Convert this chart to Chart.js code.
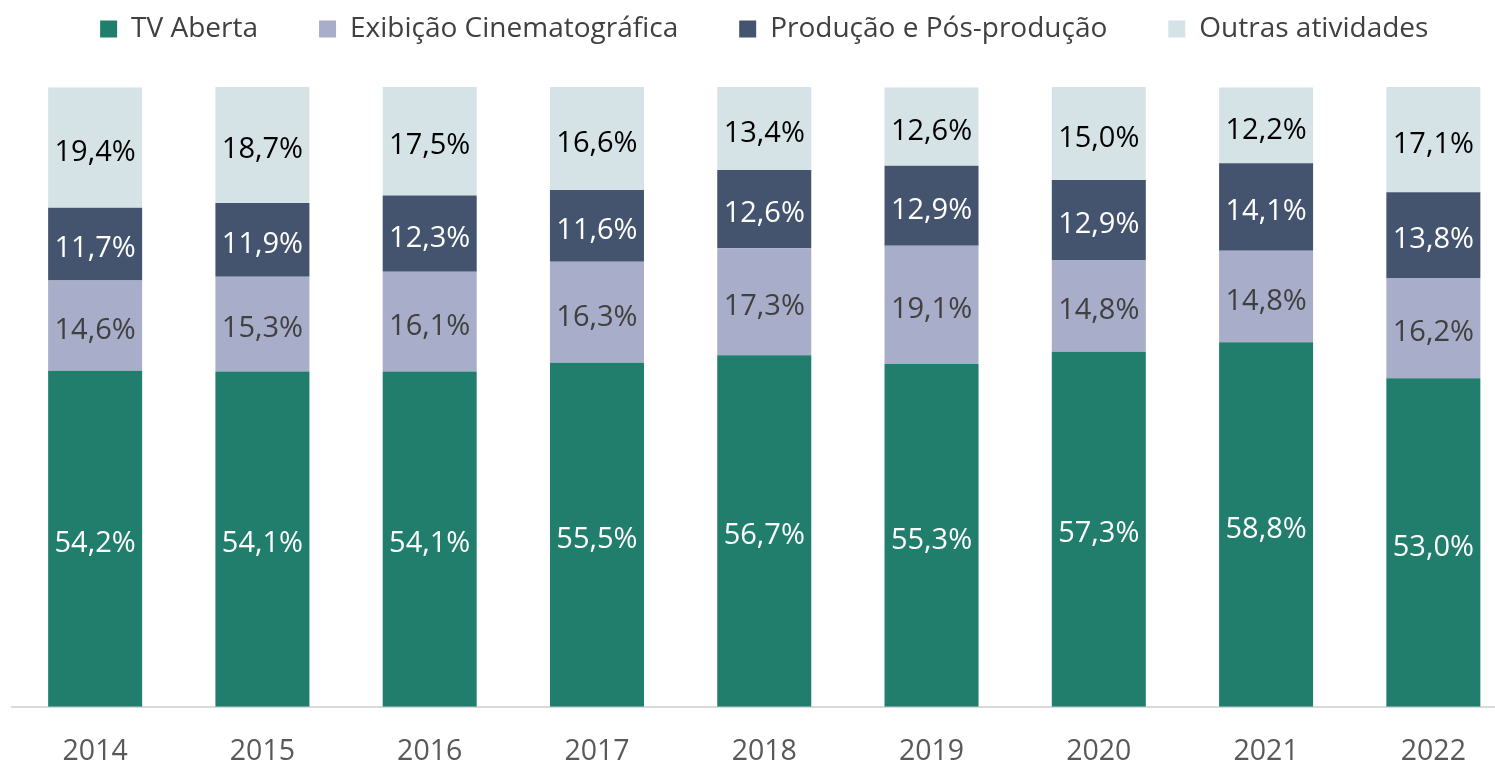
<!DOCTYPE html>
<html lang="pt">
<head>
    <meta charset="UTF-8">
    <title>Participação por atividade</title>
    <style>
        html, body { margin: 0; padding: 0; background: #fff; overflow: hidden; }
        .wrap { width: 1517px; height: 764px; }
    </style>
    <script src="https://cdn.jsdelivr.net/npm/chart.js"></script>
</head>
<body>
    <div class="wrap">
        <canvas id="grafico"></canvas>
    </div>

    <script>
        const anos = ['2014', '2015', '2016', '2017', '2018', '2019', '2020', '2021', '2022'];
        const tvAberta = [54.2, 54.1, 54.1, 55.5, 56.7, 55.3, 57.3, 58.8, 53.0];
        const exibicao = [14.6, 15.3, 16.1, 16.3, 17.3, 19.1, 14.8, 14.8, 16.2];
        const producao = [11.7, 11.9, 12.3, 11.6, 12.6, 12.9, 12.9, 14.1, 13.8];
        const outras = [19.4, 18.7, 17.5, 16.6, 13.4, 12.6, 15.0, 12.2, 17.1];

        const fonte = "'Open Sans', 'Noto Sans', sans-serif";

        // rótulos no centro de cada segmento
        const rotulos = {
            id: 'rotulos',
            afterDatasetsDraw(chart) {
                const ctx = chart.ctx;
                ctx.save();
                ctx.font = '29px ' + fonte;
                ctx.textAlign = 'center';
                ctx.textBaseline = 'middle';
                chart.data.datasets.forEach((ds, i) => {
                    const meta = chart.getDatasetMeta(i);
                    ctx.fillStyle = ds.corRotulo;
                    meta.data.forEach((bar, j) => {
                        const txt = ds.data[j].toFixed(1).replace('.', ',') + '%';
                        ctx.fillText(txt, bar.x, (bar.y + bar.base) / 2 + 5);
                    });
                });
                ctx.restore();
            }
        };

        // legenda sobe (o padding grande é só para afastar os itens)
        const moverLegenda = {
            id: 'moverLegenda',
            afterLayout(chart) {
                chart.legend.top -= 34;
                chart.legend.bottom -= 34;
            }
        };

        new Chart(document.getElementById('grafico'), {
            type: 'bar',
            data: {
                labels: anos,
                datasets: [
                    { label: 'TV Aberta', data: tvAberta, backgroundColor: '#217E6C', corRotulo: '#FFFFFF' },
                    { label: 'Exibição Cinematográfica', data: exibicao, backgroundColor: '#A8ADC9', corRotulo: '#404040' },
                    { label: 'Produção e Pós-produção', data: producao, backgroundColor: '#44546F', corRotulo: '#FFFFFF' },
                    { label: 'Outras atividades', data: outras, backgroundColor: '#D6E3E6', corRotulo: '#000000' }
                ]
            },
            options: {
                responsive: true,
                maintainAspectRatio: false,
                animation: false,
                datasets: { bar: { categoryPercentage: 1, barPercentage: 0.562 } },
                layout: { padding: { left: 11.5, top: -12, bottom: -25 } },
                plugins: {
                    legend: {
                        position: 'top',
                        labels: {
                            boxWidth: 17,
                            boxHeight: 17,
                            padding: 61,
                            color: '#404040',
                            font: { family: fonte, size: 28 }
                        }
                    },
                    tooltip: { enabled: false }
                },
                scales: {
                    x: {
                        stacked: true,
                        grid: { display: false },
                        border: { color: '#D9D9D9', width: 2 },
                        ticks: { color: '#595959', padding: 20, font: { family: fonte, size: 28.5 } }
                    },
                    y: {
                        stacked: true,
                        display: false,
                        min: 0,
                        max: 100
                    }
                }
            },
            plugins: [rotulos, moverLegenda]
        });
    </script>
</body>
</html>
